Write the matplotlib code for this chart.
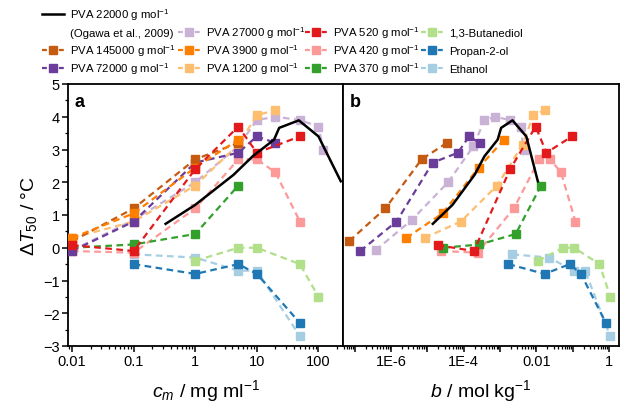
import matplotlib
matplotlib.use('Agg')
import matplotlib.pyplot as plt
from matplotlib.lines import Line2D
from matplotlib.ticker import FixedLocator, FixedFormatter, LogLocator, MultipleLocator, NullFormatter

plt.rcParams['font.family'] = ['Liberation Sans', 'DejaVu Sans']
plt.rcParams['mathtext.fontset'] = 'custom'
plt.rcParams['mathtext.rm'] = 'Liberation Sans'
plt.rcParams['mathtext.it'] = 'Liberation Sans:italic'
plt.rcParams['mathtext.bf'] = 'Liberation Sans:bold'

# ---------------- data ----------------
# Ogawa et al., 2009 (PVA 22000), solid line
ogawa_c = [0.33, 1.0, 4.2, 8.5, 19, 23, 48, 100, 230]
ogawa_b = [1.4e-5, 4.9e-5, 2.0e-4, 3.7e-4, 8.6e-4, 1.07e-3, 2.2e-3, 5.3e-3, 1.1e-2]
ogawa_dT = [0.73, 1.31, 2.23, 2.79, 3.30, 3.66, 3.89, 3.40, 2.03]

pva145000_c = [0.01, 0.1, 1, 5]
pva145000_b = [6.9e-8, 6.9e-7, 6.9e-6, 3.4e-5]
pva145000_dT = [0.2, 1.2, 2.7, 3.2]

pva72000_c = [0.01, 0.1, 1, 5, 10, 20]
pva72000_b = [1.4e-7, 1.4e-6, 1.4e-5, 6.9e-5, 1.4e-4, 2.8e-4]
pva72000_dT = [-0.1, 0.8, 2.6, 2.9, 3.4, 3.2]

pva27000_c = [0.01, 0.1, 1, 5, 10, 20, 50, 100, 120]
pva27000_b = [3.7e-7, 3.7e-6, 3.7e-5, 1.85e-4, 3.7e-4, 7.4e-4, 1.85e-3, 3.7e-3, 4.5e-3]
pva27000_dT = [-0.08, 0.85, 2.0, 3.1, 3.9, 4.0, 3.9, 3.7, 3.0]

pva3900_c = [0.01, 0.1, 1, 5]
pva3900_b = [2.6e-6, 2.6e-5, 2.6e-4, 1.3e-3]
pva3900_dT = [0.3, 1.05, 2.45, 3.3]

pva1200_c = [0.01, 0.1, 1, 5, 10, 20]
pva1200_b = [8.3e-6, 8.3e-5, 8.3e-4, 4.2e-3, 8.3e-3, 1.7e-2]
pva1200_dT = [0.3, 0.8, 1.9, 3.15, 4.05, 4.2]

pva520_c = [0.01, 0.1, 1, 5, 10, 50]
pva520_b = [1.9e-5, 1.9e-4, 1.9e-3, 9.6e-3, 1.9e-2, 9.6e-2]
pva520_dT = [0.08, -0.1, 2.4, 3.7, 2.9, 3.4]

pva420_c = [0.01, 0.1, 1, 5, 10, 20, 50]
pva420_b = [2.4e-5, 2.4e-4, 2.4e-3, 1.2e-2, 2.4e-2, 4.8e-2, 0.12]
pva420_dT = [-0.1, -0.15, 1.2, 2.7, 2.7, 2.3, 0.8]

pva370_c = [0.01, 0.1, 1, 5]
pva370_b = [2.7e-5, 2.7e-4, 2.7e-3, 1.35e-2]
pva370_dT = [0.0, 0.1, 0.42, 1.9]

butanediol_c = [1, 5, 10, 50, 100]
butanediol_b = [1.1e-2, 5.5e-2, 0.11, 0.55, 1.1]
butanediol_dT = [-0.4, 0.0, 0.0, -0.5, -1.5]

propanol_c = [0.1, 1, 5, 10, 50]
propanol_b = [1.7e-3, 1.7e-2, 8.3e-2, 0.17, 0.83]
propanol_dT = [-0.5, -0.8, -0.5, -0.8, -2.3]

ethanol_c = [0.1, 1, 5, 10, 50]
ethanol_b = [2.2e-3, 2.2e-2, 0.11, 0.22, 1.09]
ethanol_dT = [-0.2, -0.3, -0.7, -0.7, -2.7]

labels = ['PVA 145000 g mol$^{-1}$', 'PVA 72000 g mol$^{-1}$', 'PVA 27000 g mol$^{-1}$',
          'PVA 3900 g mol$^{-1}$', 'PVA 1200 g mol$^{-1}$', 'PVA 520 g mol$^{-1}$',
          'PVA 420 g mol$^{-1}$', 'PVA 370 g mol$^{-1}$', '1,3-Butanediol',
          'Propan-2-ol', 'Ethanol']
ogawa_label = 'PVA 22000 g mol$^{-1}$'
ogawa_ref = '(Ogawa et al., 2009)'

series = [
    (pva145000_c, pva145000_b, pva145000_dT),
    (pva72000_c, pva72000_b, pva72000_dT),
    (pva27000_c, pva27000_b, pva27000_dT),
    (pva3900_c, pva3900_b, pva3900_dT),
    (pva1200_c, pva1200_b, pva1200_dT),
    (pva520_c, pva520_b, pva520_dT),
    (pva420_c, pva420_b, pva420_dT),
    (pva370_c, pva370_b, pva370_dT),
    (butanediol_c, butanediol_b, butanediol_dT),
    (propanol_c, propanol_b, propanol_dT),
    (ethanol_c, ethanol_b, ethanol_dT),
]

# ---------------- style ----------------
colors = ['#c55a11', '#6a3d9a', '#cab2d6', '#ff7f00', '#fdbf6f', '#e31a1c',
          '#fb9a99', '#33a02c', '#b2df8a', '#1f78b4', '#a6cee3']
draw_order = [10, 9, 8, 2, 4, 6, 7, 1, 0, 3, 5]
dash = (0, (3, 2))
lw = 1.6
ms = 6.2

W, H = 620, 410
fig = plt.figure(figsize=(6.2, 4.1), dpi=100)
axa = fig.add_axes([68/W, 1-347/H, (343-68)/W, (347-85)/H])
axb = fig.add_axes([343/W, 1-347/H, (619-343)/W, (347-85)/H])

for ax, key in ((axa, 0), (axb, 1)):
    for i in draw_order:
        xs = series[i][key]
        ys = series[i][2]
        ax.plot(xs, ys, linestyle=dash, color=colors[i], lw=lw, marker='s',
                ms=ms, mfc=colors[i], mec=colors[i], zorder=3)
    ax.plot(ogawa_c if key == 0 else ogawa_b, ogawa_dT, color='black', lw=1.8, zorder=4)
    ax.set_xscale('log')
    ax.set_ylim(-3, 5)
    ax.yaxis.set_major_locator(MultipleLocator(1))
    ax.yaxis.set_minor_locator(MultipleLocator(0.5))
    for s in ax.spines.values():
        s.set_linewidth(1.3)
    ax.tick_params(which='major', direction='out', length=4, width=1.1, labelsize=10.5, pad=2)
    ax.tick_params(which='minor', direction='out', length=2.2, width=0.9)
    ax.tick_params(top=False, right=False)

axa.set_xlim(0.0086, 250)
axa.xaxis.set_major_locator(FixedLocator([0.01, 0.1, 1, 10, 100]))
axa.xaxis.set_major_formatter(FixedFormatter(['0.01', '0.1', '1', '10', '100']))
axa.xaxis.set_minor_locator(LogLocator(base=10, subs=range(2, 10), numticks=20))
axa.xaxis.set_minor_formatter(NullFormatter())
axa.set_ylabel(r'$\Delta T_{50}$ / °C', fontsize=14, labelpad=3)
axa.set_xlabel(r'$c_m$ / mg ml$^{-1}$', fontsize=14, labelpad=6)

axb.set_xlim(4.7e-8, 1.9)
axb.xaxis.set_major_locator(FixedLocator([1e-7, 1e-6, 1e-5, 1e-4, 1e-3, 1e-2, 1e-1, 1]))
axb.xaxis.set_major_formatter(FixedFormatter(['', '1E-6', '', '1E-4', '', '0.01', '', '1']))
axb.xaxis.set_minor_locator(LogLocator(base=10, subs=range(2, 10), numticks=20))
axb.xaxis.set_minor_formatter(NullFormatter())
axb.tick_params(axis='y', which='both', left=False, labelleft=False)
axb.set_xlabel(r'$b$ / mol kg$^{-1}$', fontsize=14, labelpad=6)

axa.text(0.025, 0.965, 'a', transform=axa.transAxes, fontsize=13, fontweight='bold', va='top', ha='left')
axb.text(0.025, 0.965, 'b', transform=axb.transAxes, fontsize=13, fontweight='bold', va='top', ha='left')

# ---------------- legend (placed manually, pixel layout) ----------------
fs = 8.2
col_x = [42, 178, 305, 421]     # handle start (px)
row_y = [15, 33, 51, 69]        # row centres (px)
hlen = 22
tpad = 6

def handle(x0, y, color, solid=False):
    xs = [x0 / W, (x0 + hlen) / W]
    ys = [1 - y / H, 1 - y / H]
    if solid:
        fig.add_artist(Line2D(xs, ys, color=color, lw=1.8, transform=fig.transFigure))
    else:
        fig.add_artist(Line2D(xs, ys, color=color, lw=lw, linestyle=(0, (2.2, 1.6)),
                              transform=fig.transFigure))
        fig.add_artist(Line2D([(x0 + hlen / 2) / W], [1 - y / H], color=color, marker='s',
                              ms=ms, mfc=color, mec=color, linestyle='none',
                              transform=fig.transFigure))

def label(x0, y, txt):
    fig.text((x0 + hlen + tpad) / W, 1 - (y + 3.9) / H, txt, fontsize=fs,
             va='baseline', ha='left')

handle(col_x[0], row_y[0], 'black', solid=True)
label(col_x[0], row_y[0], ogawa_label)
label(col_x[0], row_y[1], ogawa_ref)
# column-major placement of the 11 coloured entries
slots = [(0, 2), (0, 3), (1, 1), (1, 2), (1, 3), (2, 1), (2, 2), (2, 3), (3, 1), (3, 2), (3, 3)]
for i, (c, r) in enumerate(slots):
    handle(col_x[c], row_y[r], colors[i])
    label(col_x[c], row_y[r], labels[i])

fig.savefig('out.png', dpi=100)
